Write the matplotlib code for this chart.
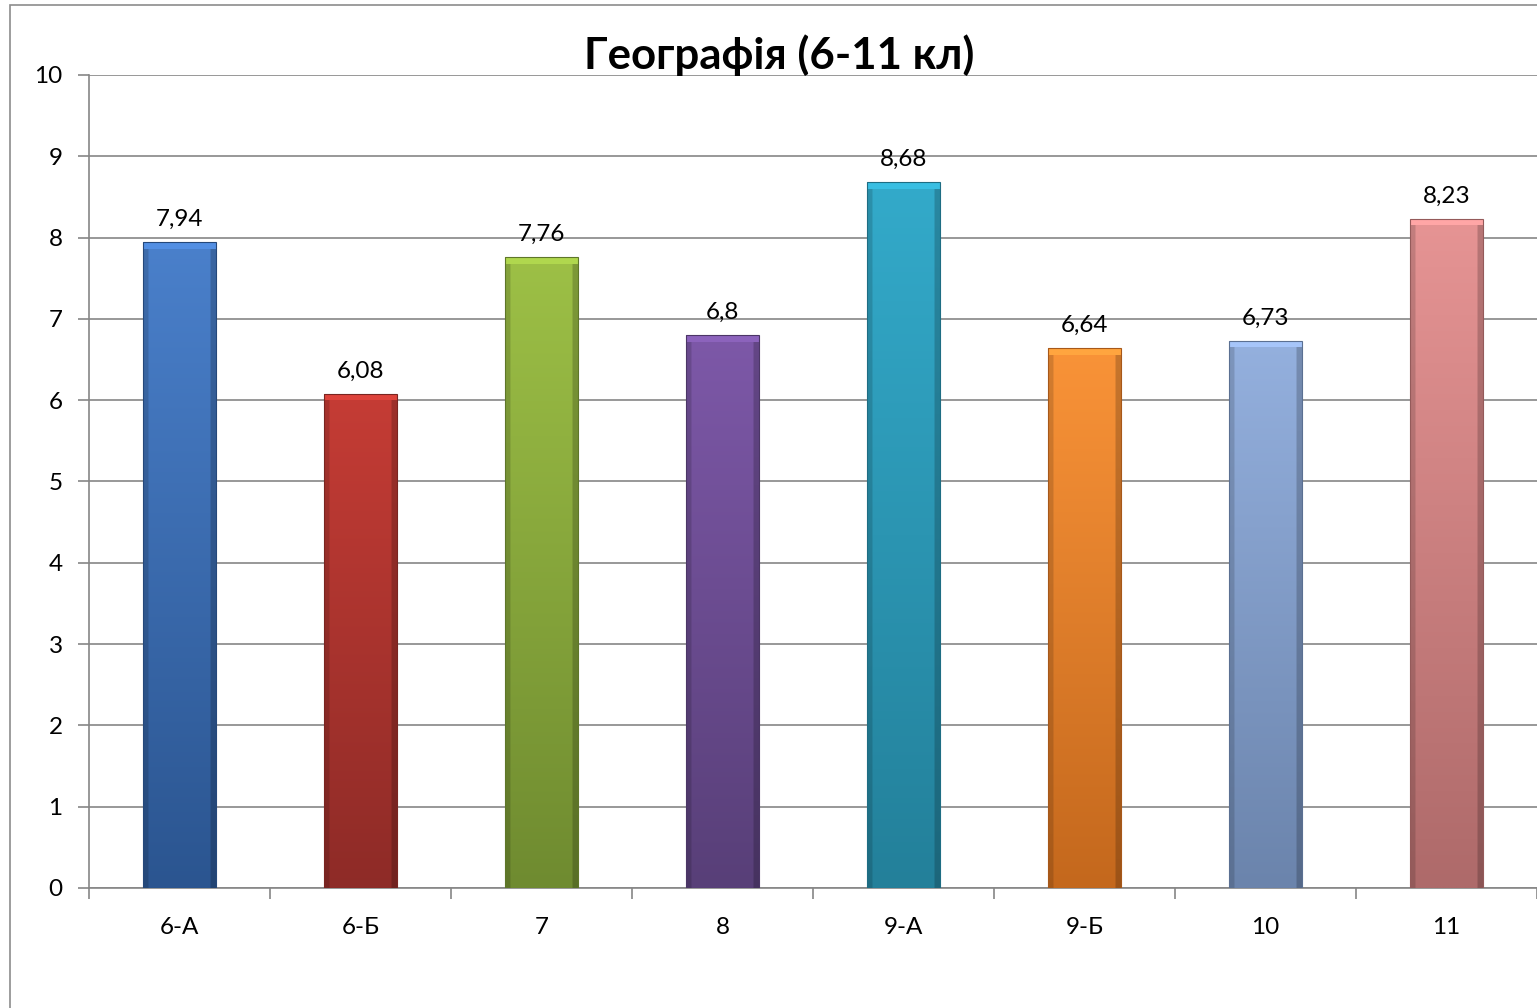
import matplotlib
matplotlib.use("Agg")
import matplotlib.pyplot as plt
import numpy as np
from matplotlib.colors import to_rgb
from matplotlib.patches import Rectangle

categories = ["6-А", "6-Б", "7", "8", "9-А", "9-Б", "10", "11"]
values = [7.94, 6.08, 7.76, 6.8, 8.68, 6.64, 6.73, 8.23]
labels = ["7,94", "6,08", "7,76", "6,8", "8,68", "6,64", "6,73", "8,23"]
title = "Географія (6-11 кл)"
yticks = list(range(0, 11))

top_colors = ["#4A80CB", "#C53C35", "#9DC046", "#7D58A8", "#33AACA", "#F99338", "#94B0DE", "#E69494"]
bot_colors = ["#2B5590", "#8E2B27", "#6F8B30", "#583F78", "#23809A", "#C4681D", "#6B84AC", "#AE6A6A"]

plt.rcParams['font.family'] = ['Lato', 'DejaVu Sans']

fig = plt.figure(figsize=(15.37, 10.08), dpi=100)
ax = fig.add_axes([89/1537, 120/1008, 1 - 89/1537, 813/1008])

# outer chart frame
fig.patches.append(Rectangle((10/1537, -0.1), 1.2, 1.1 - 5/1008, transform=fig.transFigure,
                             fill=False, edgecolor="#8c8c8c", linewidth=1.2))

x = np.arange(len(categories))
bars = ax.bar(x, values, width=0.4, color="none", edgecolor="none", zorder=3)

for b, tc, bc in zip(bars, top_colors, bot_colors):
    tc = np.array(to_rgb(tc)); bc = np.array(to_rgb(bc))
    n = 200
    t = np.linspace(0, 1, n)[:, None]
    grad = tc[None, :] * (1 - t) + bc[None, :] * t  # top -> bottom
    img = np.repeat(grad[:, None, :], 40, axis=1)
    xs = np.linspace(0, 1, 40)
    shade = np.ones(40)
    shade[xs < 0.06] = 0.85
    shade[xs > 0.94] = 0.80
    img = img * shade[None, :, None]
    x0, y0 = b.get_x(), b.get_y()
    w, h = b.get_width(), b.get_height()
    im = ax.imshow(np.clip(img, 0, 1), extent=(x0, x0 + w, y0, y0 + h), aspect="auto",
                   origin="upper", zorder=3, interpolation="bilinear")
    im.set_clip_path(b)
    ax.add_patch(Rectangle((x0, y0 + h - 0.08), w, 0.08, facecolor=tuple(np.clip(tc * 1.12, 0, 1)),
                           edgecolor="none", zorder=4))
    ax.add_patch(Rectangle((x0, y0), w, h, fill=False, edgecolor=tuple(bc * 0.85), linewidth=0.8, zorder=5))

for xi, v, lab in zip(x, values, labels):
    ax.text(xi, v + 0.28, lab, ha="center", va="center", fontsize=17.5, color="black", zorder=6)

ax.set_xlim(-0.5, len(categories) - 0.5)
ax.set_ylim(0, 10)
ax.set_yticks(yticks)
ax.set_yticklabels([str(v) for v in yticks], fontsize=17.5)
ax.set_xticks(x)
ax.set_xticklabels(categories, fontsize=17.5)
ax.set_xticks(np.arange(-0.5, len(categories), 1), minor=True)
ax.tick_params(axis="x", which="major", length=0, pad=21)
ax.tick_params(axis="x", which="minor", length=8, color="#868686", width=1.2)
ax.tick_params(axis="y", length=8, color="#868686", width=1.2, pad=11)
ax.yaxis.grid(True, color="#868686", linewidth=1.2, zorder=0)
ax.set_axisbelow(True)
for s in ["top", "right"]:
    ax.spines[s].set_visible(False)
for s in ["left", "bottom"]:
    ax.spines[s].set_color("#868686")
    ax.spines[s].set_linewidth(1.2)

fig.text(779/1537, 1 - 55/1008, title, ha="center", va="center", fontsize=31.5, fontweight="bold")

fig.savefig("out.png", dpi=100)
